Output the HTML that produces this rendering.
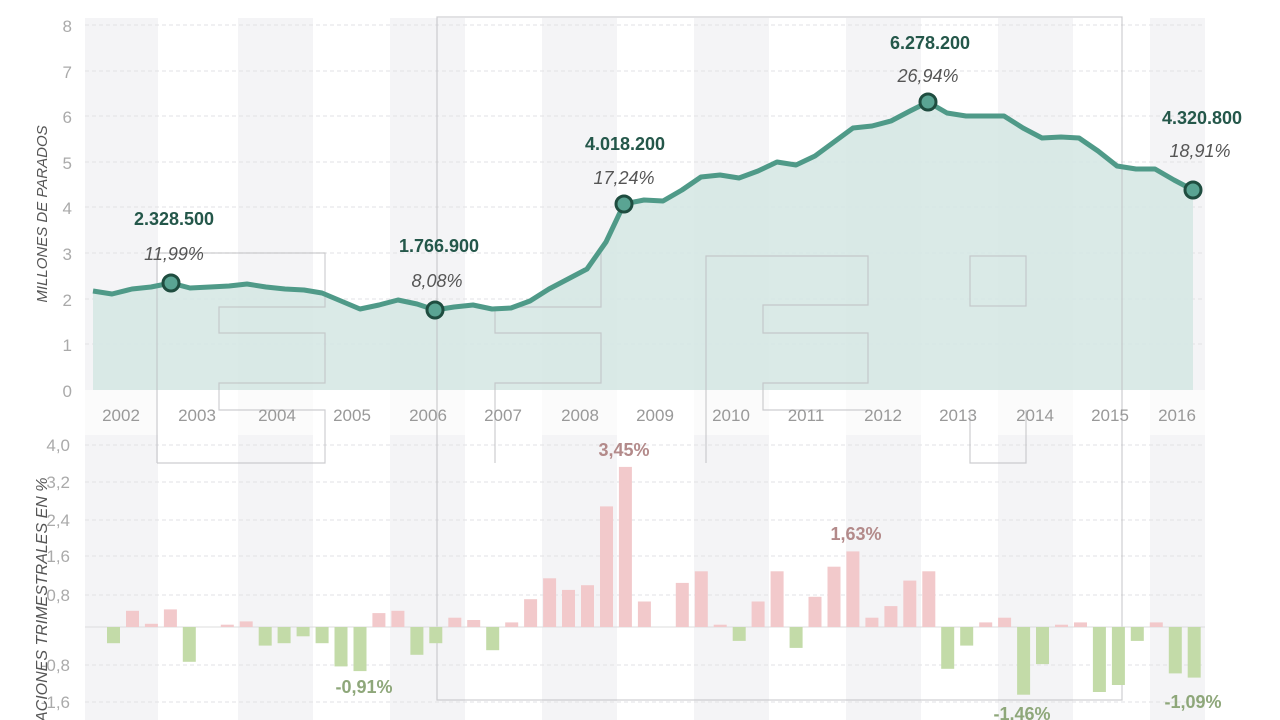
<!DOCTYPE html>
<html><head><meta charset="utf-8"><style>
html,body{margin:0;padding:0;background:#fff;width:1280px;height:720px;overflow:hidden}
svg{display:block}
text{font-family:"Liberation Sans",sans-serif}
</style></head><body>
<svg width="1280" height="720" viewBox="0 0 1280 720">
<g fill="#f4f4f6">
<rect x="85" y="18" width="73" height="702"/>
<rect x="238" y="18" width="75" height="702"/>
<rect x="390" y="18" width="75" height="702"/>
<rect x="542" y="18" width="75" height="702"/>
<rect x="694" y="18" width="75" height="702"/>
<rect x="846" y="18" width="75" height="702"/>
<rect x="998" y="18" width="75" height="702"/>
<rect x="1150" y="18" width="55" height="702"/>
</g>
<rect x="85" y="390" width="1120" height="45" fill="#fff" opacity="0.6"/>
<g stroke="#e2e2e4" stroke-dasharray="4,3" stroke-width="1">
<line x1="85" x2="1205" y1="25" y2="25"/><line x1="85" x2="1205" y1="71" y2="71"/>
<line x1="85" x2="1205" y1="116" y2="116"/><line x1="85" x2="1205" y1="162" y2="162"/>
<line x1="85" x2="1205" y1="207" y2="207"/><line x1="85" x2="1205" y1="253" y2="253"/>
<line x1="85" x2="1205" y1="299" y2="299"/><line x1="85" x2="1205" y1="344" y2="344"/>
<line x1="85" x2="1205" y1="445" y2="445"/><line x1="85" x2="1205" y1="482" y2="482"/>
<line x1="85" x2="1205" y1="520" y2="520"/><line x1="85" x2="1205" y1="556" y2="556"/>
<line x1="85" x2="1205" y1="595" y2="595"/><line x1="85" x2="1205" y1="665" y2="665"/>
<line x1="85" x2="1205" y1="702" y2="702"/>
</g>
<polygon fill="#d6e8e4" opacity="0.9" points="93,390 93,291 112,294 132,289 151,287 171,283 190,288 210,287 229,286 247,284 266,287 285,289 304,290 322,293 341,301 360,309 379,305 398,300 417,304 435,310 454,307 473,305 492,309 511,308 530,301 549,289 568,279 587,269 606,242 624,204 644,200 663,201 682,190 701,177 720,175 739,178 758,171 777,162 796,165 815,156 834,142 853,128 872,126 891,121 910,111 928,102 947,113 966,116 985,116 1004,116 1023,128 1042,138 1061,137 1079,138 1098,151 1117,166 1136,169 1155,169 1174,180 1193,190 1193,390"/>
<g fill="none" stroke="#bdbdc1" stroke-width="1.2" opacity="0.75">
<rect x="437" y="17" width="685" height="683"/>
<polyline points="157,463 157,253 325,253 325,307 219,307 219,333 325,333 325,383 219,383 219,410 325,410 325,463 157,463"/>
<polyline points="495,463 495,383 601,383 601,333 495,333 495,307 601,307 601,253"/>
<polyline points="706,463 706,256 868,256 868,305 763,305 763,333 868,333 868,383 763,383 763,410 868,410"/>
<rect x="970" y="256" width="56" height="50"/>
<polyline points="970,410 970,463 1026,463 1026,410"/>
</g>
<polyline fill="none" stroke="#4f9a88" stroke-width="5" stroke-linejoin="round" points="93,291 112,294 132,289 151,287 171,283 190,288 210,287 229,286 247,284 266,287 285,289 304,290 322,293 341,301 360,309 379,305 398,300 417,304 435,310 454,307 473,305 492,309 511,308 530,301 549,289 568,279 587,269 606,242 624,204 644,200 663,201 682,190 701,177 720,175 739,178 758,171 777,162 796,165 815,156 834,142 853,128 872,126 891,121 910,111 928,102 947,113 966,116 985,116 1004,116 1023,128 1042,138 1061,137 1079,138 1098,151 1117,166 1136,169 1155,169 1174,180 1193,190"/>
<g fill="#5aa493" stroke="#1f4d40" stroke-width="3">
<circle cx="171" cy="283" r="8"/><circle cx="435" cy="310" r="8"/><circle cx="624" cy="204" r="8"/><circle cx="928" cy="102" r="8"/><circle cx="1193" cy="190" r="8"/>
</g>
<g font-size="18" font-weight="bold" fill="#24574a" text-anchor="middle">
<text x="174" y="225">2.328.500</text><text x="439" y="252">1.766.900</text>
<text x="625" y="150">4.018.200</text><text x="930" y="49">6.278.200</text><text x="1202" y="124">4.320.800</text>
</g>
<g font-size="18" font-style="italic" fill="#555" text-anchor="middle">
<text x="174" y="260">11,99%</text><text x="437" y="287">8,08%</text>
<text x="624" y="184">17,24%</text><text x="928" y="82">26,94%</text><text x="1200" y="157">18,91%</text>
</g>
<g font-size="17" fill="#aaa" text-anchor="end">
<text x="72" y="32">8</text><text x="72" y="78">7</text><text x="72" y="123">6</text><text x="72" y="169">5</text>
<text x="72" y="214">4</text><text x="72" y="260">3</text><text x="72" y="306">2</text><text x="72" y="351">1</text><text x="72" y="397">0</text>
<text x="70" y="451">4,0</text><text x="70" y="488">3,2</text><text x="70" y="526">2,4</text><text x="70" y="562">1,6</text>
<text x="70" y="601">0,8</text><text x="70" y="671">-0,8</text><text x="70" y="708">-1,6</text>
</g>
<g font-size="17" fill="#999" text-anchor="middle">
<text x="121" y="421">2002</text><text x="197" y="421">2003</text><text x="277" y="421">2004</text><text x="352" y="421">2005</text>
<text x="428" y="421">2006</text><text x="503" y="421">2007</text><text x="580" y="421">2008</text><text x="655" y="421">2009</text>
<text x="731" y="421">2010</text><text x="806" y="421">2011</text><text x="883" y="421">2012</text><text x="958" y="421">2013</text>
<text x="1035" y="421">2014</text><text x="1110" y="421">2015</text><text x="1177" y="421">2016</text>
</g>
<text transform="translate(47,214) rotate(-90)" font-size="15" font-style="italic" fill="#555" text-anchor="middle">MILLONES DE PARADOS</text>
<text transform="translate(47,722) rotate(-90)" font-size="16" font-style="italic" fill="#555" text-anchor="start">ACIONES TRIMESTRALES EN %</text>
<line x1="85" x2="1205" y1="627" y2="627" stroke="#ddd"/>
<g id="bars"></g>
<g font-size="18" font-weight="bold" text-anchor="middle">
<text x="624" y="456" fill="#b38a8a">3,45%</text><text x="856" y="540" fill="#b38a8a">1,63%</text>
<text x="364" y="693" fill="#8ea77a">-0,91%</text><text x="1022" y="720" fill="#8ea77a">-1,46%</text><text x="1193" y="708" fill="#8ea77a">-1,09%</text>
</g>
</svg>
<script>
var v=[-0.35,0.35,0.07,0.38,-0.75,0,0.05,0.12,-0.4,-0.35,-0.2,-0.35,-0.85,-0.95,0.3,0.35,-0.6,-0.35,0.2,0.15,-0.5,0.1,0.6,1.05,0.8,0.9,2.6,3.45,0.55,0,0.95,1.2,0.05,-0.3,0.55,1.2,-0.45,0.65,1.3,1.63,0.2,0.45,1.0,1.2,-0.9,-0.4,0.1,0.2,-1.46,-0.8,0.05,0.1,-1.4,-1.25,-0.3,0.1,-1.0,-1.09];
var g=document.getElementById('bars'),s='';
for(var i=0;i<v.length;i++){var x=114+i*18.96-7,h=Math.abs(v[i])*46.4,y=v[i]>=0?627-h:627;
s+='<rect x="'+x.toFixed(1)+'" y="'+y.toFixed(1)+'" width="13" height="'+h.toFixed(1)+'" fill="'+(v[i]>=0?'#f2c9cb':'#c3dba8')+'"/>';}
g.innerHTML=s;
</script>
</body></html>
